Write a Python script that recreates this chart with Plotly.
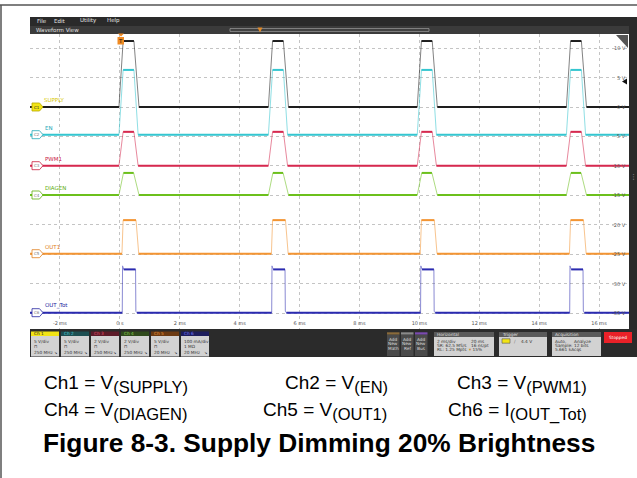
import plotly.graph_objects as go

# ---- values ----
# rising edges of the four pulses in the 20 ms window (ms)
pulse_starts = [-0.03, 4.96, 9.93, 14.91]

# one pulse per channel: time from pulse start (ms) and level
supply_t = [0, 0.14, 0.5, 0.67]
supply_v = [0, 11.2, 11.2, 0]          # V
en_t = [0, 0.14, 0.5, 0.64]
en_v = [0, 11.0, 11.0, 0]              # V
pwm1_t = [0, 0.14, 0.5, 0.64]
pwm1_v = [0, 2.3, 2.3, 0]              # V
diagen_t = [0, 0.15, 0.49, 0.67]
diagen_v = [0, 1.5, 1.5, 0]            # V
out1_t = [0.1, 0.14, 0.57, 0.66]
out1_v = [0, 5.7, 5.7, 0]              # V
outtot_t = [0.11, 0.12, 0.16, 0.555, 0.565, 0.6]
outtot_v = [0, 159, 147, 147, 5, 0]    # mA

channel_names = ["SUPPLY", "EN", "PWM1", "DIAGEN", "OUT1", "OUT_Tot"]
channel_scales = [5, 5, 2, 2, 5, 100]          # units per division
scale_labels = ["5 V/div", "5 V/div", "2 V/div", "2 V/div", "5 V/div", "100 mA/div"]
bw_labels = ["250 MHz", "250 MHz", "250 MHz", "250 MHz", "20 MHz", "20 MHz"]

time_ticks = [-2, 0, 2, 4, 6, 8, 10, 12, 14, 16]
time_labels = ["-2 ms", "0 s", "2 ms", "4 ms", "6 ms", "8 ms", "10 ms", "12 ms", "14 ms", "16 ms"]
ch1_ticks = [10, 5, 0, -5, -10, -15, -20, -25, -30, -35]
ch1_labels = ["10 V", "5 V", "0 V", "-5 V", "-10 V", "-15 V", "-20 V", "-25 V", "-30 V", "-35 V"]

# ---- screen geometry / style ----
W, H = 637, 478
X0, X1 = 30, 629        # waveform area (px)
Y0, Y1 = 34, 329
DIV = 29.45             # px per vertical division
zero_px = [107, 134.7, 165.7, 195, 253.7, 312.7]   # where each channel's 0 sits
trace_col = ["#1e1e1e", "#35c6d0", "#d6294f", "#6cc01c", "#f39533", "#2b2bb0"]
name_col = ["#d8c800", "#22a8b8", "#c8203f", "#5fae10", "#e08020", "#2424a0"]
head_fill = ["#f2e415", "#1d4f52", "#5c1b29", "#2f4a1c", "#6b3a12", "#1d1d5c"]
head_text = ["#222222", "#50d0d8", "#e0506a", "#90d050", "#f09a40", "#7a7af0"]
UI = "DejaVu Sans"


def fx(x):
    return x / W


def fy(y):
    return 1 - y / H


shapes = []
annotations = []


def rect(x0, y0, x1, y1, fill, line=None, lw=0):
    shapes.append(dict(type="rect", xref="paper", yref="paper",
                       x0=fx(x0), x1=fx(x1), y0=fy(y1), y1=fy(y0),
                       fillcolor=fill, line=dict(color=line or fill, width=lw), layer="above"))


def poly(pts, fill, line=None, lw=0):
    d = "M" + " L".join(f"{fx(x):.5f},{fy(y):.5f}" for x, y in pts) + " Z"
    shapes.append(dict(type="path", xref="paper", yref="paper", path=d,
                       fillcolor=fill, line=dict(color=line or fill, width=lw), layer="above"))


def hline(x0, x1, y, color, lw=1):
    shapes.append(dict(type="line", xref="paper", yref="paper",
                       x0=fx(x0), x1=fx(x1), y0=fy(y), y1=fy(y), line=dict(color=color, width=lw)))


def label(x, y, s, size=5, color="#333333", anchor="left", family=UI):
    annotations.append(dict(x=fx(x), y=fy(y), xref="paper", yref="paper", text=s,
                            showarrow=False, xanchor=anchor, yanchor="middle",
                            borderpad=0, font=dict(size=size, color=color, family=family)))


def waveform(rel_t, rel_v):
    t, v = [-3.0], [0.0]
    for p in pulse_starts:
        t += [p + r for r in rel_t]
        v += list(rel_v)
    t.append(17.0)
    v.append(0.0)
    return t, v


def flats(t, v):
    ft, fv = [], []
    for i in range(len(t) - 1):
        if v[i] == v[i + 1]:
            ft += [t[i], t[i + 1], None]
            fv += [v[i], v[i + 1], None]
    return ft, fv


pulses = [(supply_t, supply_v), (en_t, en_v), (pwm1_t, pwm1_v),
          (diagen_t, diagen_v), (out1_t, out1_v), (outtot_t, outtot_v)]

fig = go.Figure()
layout_axes = {}
for k, ((rt, rv), s, z, col) in enumerate(zip(pulses, channel_scales, zero_px, trace_col), start=1):
    yname = "y" if k == 1 else f"y{k}"
    t, v = waveform(rt, rv)
    # thin, faint edges
    fig.add_trace(go.Scatter(x=t, y=v, yaxis=yname, mode="lines", opacity=0.55,
                             line=dict(color=col, width=1), hoverinfo="skip", showlegend=False))
    # thick flat levels
    ft, fv = flats(t, v)
    fig.add_trace(go.Scatter(x=ft, y=fv, yaxis=yname, mode="lines",
                             line=dict(color=col, width=2), hoverinfo="skip", showlegend=False))
    rng = [-(Y1 - z) / DIV * s, (z - Y0) / DIV * s]
    if k == 1:
        layout_axes["yaxis"] = dict(
            domain=[fy(Y1), fy(Y0)], range=rng, anchor="x",
            tickvals=ch1_ticks, showticklabels=False, ticks="",
            showgrid=True, gridcolor="#c4c4c4", griddash="dot", gridwidth=1,
            zeroline=False, showline=False, fixedrange=True)
    else:
        layout_axes[f"yaxis{k}"] = dict(range=rng, overlaying="y", anchor="x",
                                        visible=False, fixedrange=True)

# Ch1 scale labels at the right edge of the graticule
for v, s in zip(ch1_ticks, ch1_labels):
    annotations.append(dict(x=fx(627), y=v, xref="paper", yref="y", text=s, showarrow=False,
                            xanchor="right", yanchor="middle", borderpad=0,
                            font=dict(size=5, color="#555555", family=UI)))

# ---- outer figure border ----
hline(0, W, 5, "#555555", 1.5)
shapes.append(dict(type="line", xref="paper", yref="paper", x0=fx(1), x1=fx(1),
                   y0=fy(5), y1=0, line=dict(color="#555555", width=1.5)))

# ---- scope chrome: menu, waveform view bar, right strip ----
rect(30, 17, W, 26, "#2a2a2a")
rect(30, 26, X1, 34, "#3b3b3b")
rect(X1, 17, W, 357, "#2a2a2a")
for s, x in zip(["File", "Edit", "Utility", "Help"], [36, 53, 79, 106]):
    label(x, 21, s, 5.5, "#e6e6e6")
label(35, 30.2, "Waveform View", 5.5, "#e0e0e0")
rect(230, 28.6, 429, 31.4, "#3b3b3b", "#9a9a9a", 0.8)
poly([(257.5, 27.5), (262.5, 27.5), (260, 32.5)], "#e08a2a")
label(633, 177, "⋮", 7, "#aaaaaa", "center")
# corner icon + trigger markers
poly([(616, 35), (628, 35), (628, 48)], "#555555")
poly([(118, 33.5), (124, 33.5), (121, 36.5)], "#f08a22")
rect(117.5, 37, 124, 44.5, "#f08a22")
label(120.8, 40.8, "T", 5.5, "#111111", "center")
poly([(622, 81.5), (627, 78.5), (627, 84.5)], "#111111")

# ---- channel badges and names inside the grid ----
for k, (name, z) in enumerate(zip(channel_names, zero_px)):
    pts = [(32, z - 4), (39.5, z - 4), (43, z), (39.5, z + 4), (32, z + 4)]
    if k == 0:
        poly(pts, "#f2e415", "#b8a800", 0.8)
        label(36.8, z, f"C{k + 1}", 4, "#222222", "center")
    else:
        poly(pts, "#ffffff", name_col[k], 0.8)
        label(36.8, z, f"C{k + 1}", 4, "#777777", "center")
    label(44 if k else 43, z - 7, name, 5.5, name_col[k])

# ---- bottom status bar ----
rect(30, 329, W, 357, "#2b2b2b")
for k in range(6):
    x0 = 31 + 30 * k
    rect(x0, 331.5, x0 + 28, 336, head_fill[k])
    label(x0 + 1.5, 333.8, f"Ch {k + 1}", 4.3, head_text[k])
    rect(x0, 336, x0 + 28, 356.5, "#d2d2d2")
    label(x0 + 1.5, 341.2, scale_labels[k], 4.3, "#333333")
    label(x0 + 1.5, 346, "1 MΩ" if k == 5 else "⊓", 4.3, "#333333")
    label(x0 + 1.5, 352, bw_labels[k], 4.3, "#333333")
    label(x0 + 26.5, 352, "↘", 4, "#333333", "right")

for x0, hc, word in [(387, "#8a6a3a", "Math"), (401, "#8a8a8a", "Ref"), (415, "#7a4ab0", "Bus")]:
    rect(x0, 332.3, x0 + 12.5, 334.7, hc)
    rect(x0, 334.7, x0 + 12.5, 356, "#4a4a4a")
    for s, y in zip(["Add", "New", word], [339.2, 343.6, 348]):
        label(x0 + 6.25, y, s, 4.3, "#dddddd", "center")

# Horizontal panel
rect(434, 332, 494, 337, "#5a5a5a")
label(436, 334.5, "Horizontal", 4.3, "#e0e0e0")
rect(434, 337, 494, 356, "#d2d2d2")
label(436, 341, "2 ms/div", 4.3)
label(470, 341, "20 ms", 4.3)
label(436, 345.4, "SR: 62.5 MS/s", 4.3)
label(470, 345.4, "16 ns/pt", 4.3)
label(436, 349.8, "RL: 1.25 Mpts", 4.3)
label(468, 349.8, "<span style='color:#d08a20'>▾</span> 15%", 4.3)

# Trigger panel
rect(499, 332, 547, 337, "#5a5a5a")
label(501, 334.5, "Trigger", 4.3, "#e0e0e0")
rect(499, 337, 547, 356, "#d2d2d2")
rect(502, 338.8, 510, 343.2, "#f2e415", "#555555", 0.6)
label(514.5, 341, "/", 4.5, "#777777", "center")
label(520, 341, "4.4 V", 4.3)

# Acquisition panel
rect(552, 332, 601, 337, "#5a5a5a")
label(554, 334.5, "Acquisition", 4.3, "#e0e0e0")
rect(552, 337, 601, 356, "#d2d2d2")
label(554, 341, "Auto,", 4.3)
label(573, 341, "Analyze", 4.3)
label(554, 345.4, "Sample: 12 bits", 4.3)
label(554, 349.8, "5.661 kAcqs", 4.3)

# Stopped button
rect(604, 332, 632, 343, "#ea2128")
label(618, 337.5, "Stopped", 4.3, "#ffffff", "center")

# ---- captions under the screenshot ----
CAP = "Liberation Sans"


def sub(s):
    return f"<sub><span style='font-size:16.5px'>{s}</span></sub>"


label(43, 384, "Ch1 = V" + sub("(SUPPLY)"), 19, "#000000", "left", CAP)
label(389, 384, "Ch2 = V" + sub("(EN)"), 19, "#000000", "right", CAP)
label(588, 384, "Ch3 = V" + sub("(PWM1)"), 19, "#000000", "right", CAP)
label(43, 411, "Ch4 = V" + sub("(DIAGEN)"), 19, "#000000", "left", CAP)
label(262, 411, "Ch5 = V" + sub("(OUT1)"), 19, "#000000", "left", CAP)
label(588, 411, "Ch6 = I" + sub("(OUT_Tot)"), 19, "#000000", "right", CAP)
label(318.5, 443, "<b>Figure 8-3. Supply Dimming 20% Brightness</b>", 26.3, "#000000", "center", CAP)

fig.update_layout(
    width=W, height=H, autosize=False,
    margin=dict(l=0, r=0, t=0, b=0),
    paper_bgcolor="white", plot_bgcolor="white",
    showlegend=False,
    xaxis=dict(domain=[fx(X0), fx(X1)], range=[-3, 17], tickvals=time_ticks, ticktext=time_labels,
               ticklabelposition="inside", ticks="", tickfont=dict(size=5, color="#555555", family=UI),
               showgrid=True, gridcolor="#c4c4c4", griddash="dot", gridwidth=1,
               zeroline=False, showline=False, fixedrange=True),
    shapes=shapes,
    annotations=annotations,
    **layout_axes,
)

# the page's default body margin would push the figure 8 px right/down
fig.write_html("out.html", config={"displayModeBar": False},
               post_script="document.body.style.margin='0';")
